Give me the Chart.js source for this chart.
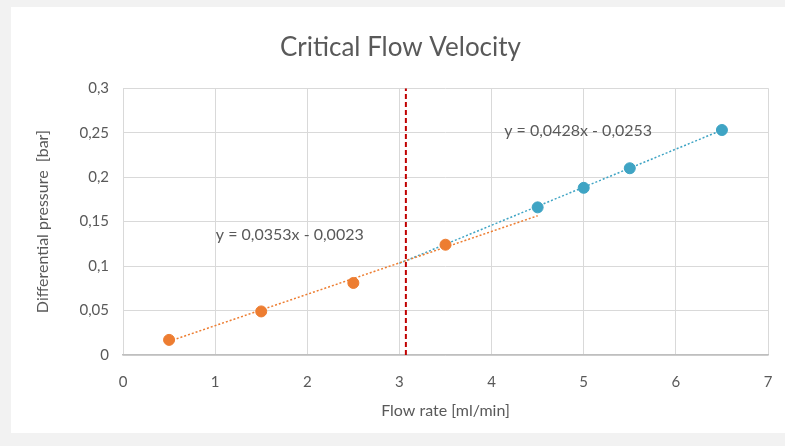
<!DOCTYPE html>
<html>
<head>
<meta charset="utf-8">
<title>Critical Flow Velocity</title>
<script src="https://cdn.jsdelivr.net/npm/chart.js@4.4.1/dist/chart.umd.min.js"></script>
<style>
  html, body { margin: 0; padding: 0; background: #f2f2f2; }
  #wrap { width: 785px; height: 446px; position: relative; }
</style>
</head>
<body>
<div id="wrap"><canvas id="myChart" width="785" height="446"></canvas></div>
<script>
// measured points, low flow regime (orange) and high flow regime (blue)
const lowFlow = [0.5, 1.5, 2.5, 3.5];
const lowDp = [0.017, 0.049, 0.081, 0.124];
const highFlow = [4.5, 5, 5.5, 6.5];
const highDp = [0.166, 0.188, 0.21, 0.253];

// linear trendlines: [slope, intercept], drawn over [from, to]
const lowFit = [0.0353, -0.0023];
const lowFitRange = [0.5, 4.5];
const highFit = [0.0428, -0.0253];
const highFitRange = [3.0, 6.5];

// where the two regimes meet
const criticalFlow = 3.07;

const xTicks = [0, 1, 2, 3, 4, 5, 6, 7];
const yTicks = [0, 0.05, 0.1, 0.15, 0.2, 0.25, 0.3];

const lowLabel = 'y = 0,0353x - 0,0023';
const highLabel = 'y = 0,0428x - 0,0253';

const orange = '#ED7D31';
const blue = '#3FA4C4';
const grey = '#595959';
const FONT = 'Lato, "Open Sans", sans-serif';

function pts(xs, ys) {
    return xs.map((x, i) => ({ x: x, y: ys[i] }));
}
function fitLine(fit, range) {
    return range.map(x => ({ x: x, y: fit[0] * x + fit[1] }));
}
function comma(v) {
    return String(Math.round(v * 1000) / 1000).replace('.', ',');
}

// grey page edge + white chart panel
const panelBg = {
    id: 'panelBg',
    beforeDraw(chart) {
        const c = chart.ctx;
        c.save();
        c.fillStyle = '#f2f2f2';
        c.fillRect(0, 0, chart.width, chart.height);
        c.fillStyle = '#ffffff';
        c.fillRect(11, 7, chart.width - 11, 426);
        c.restore();
    }
};

// equation text next to each trendline
const fitLabels = {
    id: 'fitLabels',
    afterDatasetsDraw(chart) {
        const c = chart.ctx;
        const xs = chart.scales.x, ys = chart.scales.y;
        c.save();
        c.font = '16px ' + FONT;
        c.fillStyle = grey;
        c.textAlign = 'center';
        c.textBaseline = 'middle';
        c.fillText(lowLabel, xs.getPixelForValue(1.81), ys.getPixelForValue(0.135));
        c.fillText(highLabel, xs.getPixelForValue(4.94), ys.getPixelForValue(0.252));
        c.restore();
    }
};

const ctx = document.getElementById('myChart');
const myChart = new Chart(ctx, {
    type: 'scatter',
    data: {
        datasets: [
            {
                label: 'Critical',
                data: [{ x: criticalFlow, y: 0 }, { x: criticalFlow, y: 0.3 }],
                showLine: true,
                borderColor: '#C00000',
                borderWidth: 2,
                borderDash: [5, 3],
                pointRadius: 0,
                order: 3
            },
            {
                label: 'Trend low',
                data: fitLine(lowFit, lowFitRange),
                showLine: true,
                borderColor: orange,
                borderWidth: 1.5,
                borderDash: [2, 2],
                pointRadius: 0,
                order: 2
            },
            {
                label: 'Trend high',
                data: fitLine(highFit, highFitRange),
                showLine: true,
                borderColor: blue,
                borderWidth: 1.5,
                borderDash: [2, 2],
                pointRadius: 0,
                order: 2
            },
            {
                label: 'Low flow',
                data: pts(lowFlow, lowDp),
                backgroundColor: orange,
                borderColor: orange,
                pointRadius: 5.5,
                order: 1
            },
            {
                label: 'High flow',
                data: pts(highFlow, highDp),
                backgroundColor: blue,
                borderColor: blue,
                pointRadius: 5.5,
                order: 1
            }
        ]
    },
    options: {
        responsive: false,
        animation: false,
        layout: { padding: { left: 33, right: 17, top: 21, bottom: 26 } },
        plugins: {
            legend: { display: false },
            tooltip: { enabled: false },
            title: {
                display: true,
                text: 'Critical Flow Velocity',
                color: grey,
                font: { family: FONT, size: 26, weight: 'normal' },
                padding: { top: 11, bottom: 25 }
            }
        },
        scales: {
            x: {
                type: 'linear',
                min: 0,
                max: 7,
                afterBuildTicks: s => { s.ticks = xTicks.map(v => ({ value: v })); },
                afterFit: s => {
                    s.height = 65;
                    s.paddingLeft = 4;
                    s.paddingRight = 4;
                },
                ticks: {
                    color: grey,
                    font: { family: FONT, size: 15 },
                    padding: 18,
                    callback: v => comma(v)
                },
                grid: { color: '#D9D9D9', drawTicks: false },
                border: { color: '#BFBFBF', width: 1.5 },
                title: {
                    display: true,
                    text: 'Flow rate [ml/min]',
                    color: grey,
                    font: { family: FONT, size: 16 },
                    padding: 0
                }
            },
            y: {
                min: 0,
                max: 0.3,
                afterBuildTicks: s => { s.ticks = yTicks.map(v => ({ value: v })); },
                afterFit: s => { s.width = 90; },
                ticks: {
                    color: grey,
                    font: { family: FONT, size: 15 },
                    padding: 14,
                    callback: v => comma(v)
                },
                grid: { color: '#D9D9D9', drawTicks: false },
                border: { display: false },
                title: {
                    display: true,
                    text: 'Differential pressure  [bar]',
                    color: grey,
                    font: { family: FONT, size: 16 },
                    padding: 0
                }
            }
        }
    },
    plugins: [panelBg, fitLabels]
});
</script>
</body>
</html>
